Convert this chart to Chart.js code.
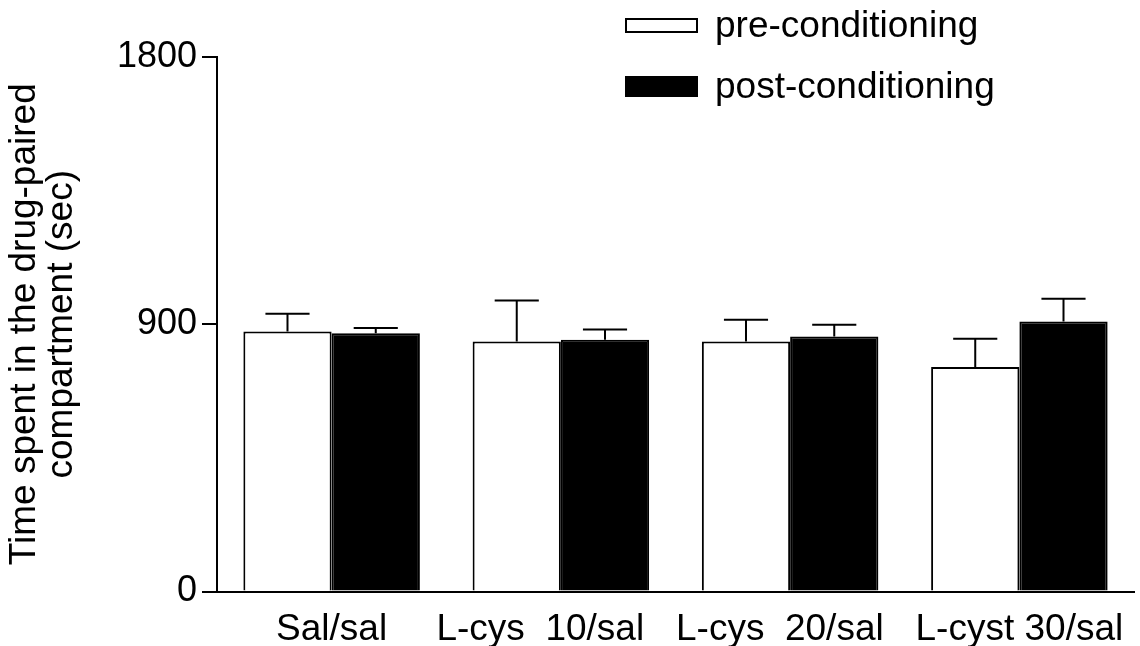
<!DOCTYPE html>
<html>
<head>
<meta charset="utf-8">
<script src="https://cdn.jsdelivr.net/npm/chart.js@4.4.1/dist/chart.umd.min.js"></script>
<style>
  html, body { margin: 0; padding: 0; background: #fff; }
  #wrap { width: 1140px; height: 646px; }
</style>
</head>
<body>
<div id="wrap"><canvas id="c" width="1140" height="646"></canvas></div>
<script>
const categories = ['Sal/sal', 'L-cys  10/sal    ', 'L-cys  20/sal  ', 'L-cyst 30/sal'];
const preValues  = [876, 842, 842, 756];
const preErrors  = [59, 138, 73, 95];
const postValues = [870, 848, 859, 909];
const postErrors = [17, 34, 39, 77];
const yTicks = [0, 900, 1800];
const seriesNames = ['pre-conditioning', 'post-conditioning'];
const FONT = "'Liberation Sans', Arial, Helvetica, sans-serif";

const errorBars = {
  id: 'errorBars',
  afterDatasetsDraw(chart) {
    const ctx = chart.ctx;
    const y = chart.scales.y;
    chart.data.datasets.forEach((ds, di) => {
      const meta = chart.getDatasetMeta(di);
      meta.data.forEach((bar, i) => {
        const top = y.getPixelForValue(ds.data[i] + ds.errors[i]);
        const half = bar.width / 4;
        ctx.save();
        ctx.strokeStyle = '#000';
        ctx.lineWidth = 2;
        ctx.beginPath();
        ctx.moveTo(bar.x, bar.y);
        ctx.lineTo(bar.x, top);
        ctx.moveTo(bar.x - half, top);
        ctx.lineTo(bar.x + half, top);
        ctx.stroke();
        ctx.restore();
      });
    });
  }
};

const customLegend = {
  id: 'customLegend',
  afterDraw(chart, args, opts) {
    const ctx = chart.ctx;
    ctx.save();
    ctx.font = opts.fontSize + 'px ' + FONT;
    ctx.textBaseline = 'middle';
    chart.data.datasets.forEach((ds, i) => {
      const b = opts.boxes[i];
      ctx.fillStyle = ds.backgroundColor;
      ctx.fillRect(opts.x, b.y, opts.w, b.h);
      ctx.strokeStyle = '#000';
      ctx.lineWidth = 2;
      ctx.strokeRect(opts.x + 1, b.y + 1, opts.w - 2, b.h - 2);
      ctx.fillStyle = '#000';
      ctx.fillText(ds.label, opts.textX, b.ty);
    });
    ctx.restore();
  }
};

new Chart(document.getElementById('c'), {
  type: 'bar',
  data: {
    labels: categories,
    datasets: [
      { label: seriesNames[0], data: preValues, errors: preErrors,
        backgroundColor: '#ffffff', borderColor: '#000', borderWidth: 2 },
      { label: seriesNames[1], data: postValues, errors: postErrors,
        backgroundColor: '#000000', borderColor: '#000', borderWidth: 2 }
    ]
  },
  options: {
    responsive: false,
    animation: false,
    devicePixelRatio: 1,
    layout: { padding: { top: 57, right: 6, left: 0, bottom: 0 } },
    datasets: { bar: { categoryPercentage: 0.77, barPercentage: 1.0 } },
    plugins: {
      legend: { display: false },
      tooltip: { enabled: false },
      customLegend: {
        x: 625, w: 73, textX: 715, fontSize: 37,
        boxes: [ { y: 18, h: 15, ty: 27 }, { y: 76, h: 21, ty: 88 } ]
      }
    },
    scales: {
      x: {
        grid: { display: false },
        border: { display: true, color: '#000', width: 2 },
        ticks: { color: '#000', font: { family: FONT, size: 37 }, padding: 8, maxRotation: 0, autoSkip: false },
        afterFit(s) { s.height = 646 - 591.5; }
      },
      y: {
        min: 0, max: 1800,
        afterBuildTicks(s) { s.ticks = yTicks.map(v => ({ value: v })); },
        afterFit(s) { s.width = 217; },
        grid: { drawOnChartArea: false, drawTicks: true, tickLength: 15, color: '#000', lineWidth: 2 },
        border: { display: true, color: '#000', width: 2 },
        ticks: { color: '#000', font: { family: FONT, size: 36 }, padding: 5, callback: v => String(v) },
        title: {
          display: true,
          text: ['Time spent in the drug-paired', 'compartment (sec)'],
          color: '#000',
          font: { family: FONT, size: 37, lineHeight: 1.0 },
          padding: { top: 6, bottom: 0 }
        }
      }
    }
  },
  plugins: [errorBars, customLegend]
});
</script>
</body>
</html>
